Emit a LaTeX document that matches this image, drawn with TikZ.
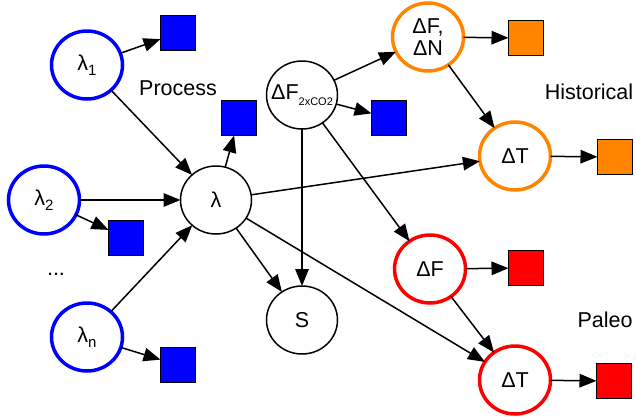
\documentclass[tikz,border=0pt]{standalone}
\usepackage{fontspec}
\setmainfont{Liberation Sans}
\usetikzlibrary{arrows.meta,shapes.geometric}
\definecolor{procblue}{RGB}{0,0,255}
\definecolor{historange}{RGB}{255,133,0}
\definecolor{paleored}{RGB}{255,0,0}
\newcommand{\sbs}[1]{\raisebox{-5pt}{\fontsize{15}{15}\selectfont #1}}
\newcommand{\tinysbs}[1]{\raisebox{-6pt}{\fontsize{11}{11}\selectfont #1}}
\begin{document}
\begin{tikzpicture}[y=1pt, x=1pt, yscale=-1, inner sep=0pt, outer sep=0pt,
  var/.style={ellipse, draw=black, line width=1.5pt, minimum width=71pt, minimum height=68pt, align=center, font=\fontsize{21.5}{24}\selectfont},
  proc/.style={var, draw=procblue, line width=3.5pt},
  hist/.style={var, draw=historange, line width=3.5pt},
  paleo/.style={var, draw=paleored, line width=3.5pt},
  obs/.style={draw=black, line width=1pt, minimum size=35pt},
  arr/.style={-{Triangle[length=17pt,width=13.5pt]}, line width=1.5pt},
  lab/.style={font=\fontsize{21.5}{24}\selectfont}]
\useasboundingbox (0,0) rectangle (636,418);
% process side
  \node[proc] (lam1) at (87,65) {λ\sbs{1}};
  \node[proc] (lam2) at (44,200) {λ\sbs{2}};
  \node[proc] (lamn) at (87,337) {λ\sbs{n}};
  \node[lab] (dots) at (56,274) {...};
  \node[var] (lam) at (216,200) {λ};
  \node[var] (sens) at (302,320) {S};
  \node[var] (dF2x) at (302,95) {\makebox[20pt][c]{ΔF\tinysbs{2xCO2}}};
  \node[lab] (process) at (178,88) {Process};
  \node[obs, fill=procblue] (olam1) at (178,33) {};
  \node[obs, fill=procblue] (olam2) at (126,238) {};
  \node[obs, fill=procblue] (olamn) at (178,365) {};
  \node[obs, fill=procblue] (olam) at (239,118) {};
  \node[obs, fill=procblue] (odF2x) at (389,118) {};
% historical
  \node[hist] (hdF) at (428,37) {\makebox[20pt][c]{ΔF,}\\[-2pt]ΔN};
  \node[hist] (hdT) at (515,156) {ΔT};
  \node[obs, fill=historange] (ohdF) at (526,38) {};
  \node[obs, fill=historange] (ohdT) at (615,157) {};
  \node[lab] (historical) at (589,92) {Historical};
% paleo
  \node[paleo] (pdF) at (430,269) {ΔF};
  \node[paleo] (pdT) at (515,380) {ΔT};
  \node[obs, fill=paleored] (opdF) at (526,268) {};
  \node[obs, fill=paleored] (opdT) at (614,381) {};
  \node[lab] (paleolab) at (605,320) {Paleo};
% arrows
  \draw[arr] (lam1) -- (olam1);
  \draw[arr] (lam1) -- (lam);
  \draw[arr] (lam2) -- (lam);
  \draw[arr] (lam2) -- (olam2);
  \draw[arr] (lamn) -- (lam);
  \draw[arr] (lamn) -- (olamn);
  \draw[arr] (lam) -- (olam);
  \draw[arr] (lam) -- (hdT);
  \draw[arr] (lam) -- (sens);
  \draw[arr] (lam) -- (pdT);
  \draw[arr] (dF2x) -- (hdF);
  \draw[arr] (dF2x) -- (odF2x);
  \draw[arr] (dF2x) -- (sens);
  \draw[arr] (dF2x) -- (pdF);
  \draw[arr] (hdF) -- (hdT);
  \draw[arr] (hdF) -- (ohdF);
  \draw[arr] (hdT) -- (ohdT);
  \draw[arr] (pdF) -- (opdF);
  \draw[arr] (pdF) -- (pdT);
  \draw[arr] (pdT) -- (opdT);
\end{tikzpicture}
\end{document}
